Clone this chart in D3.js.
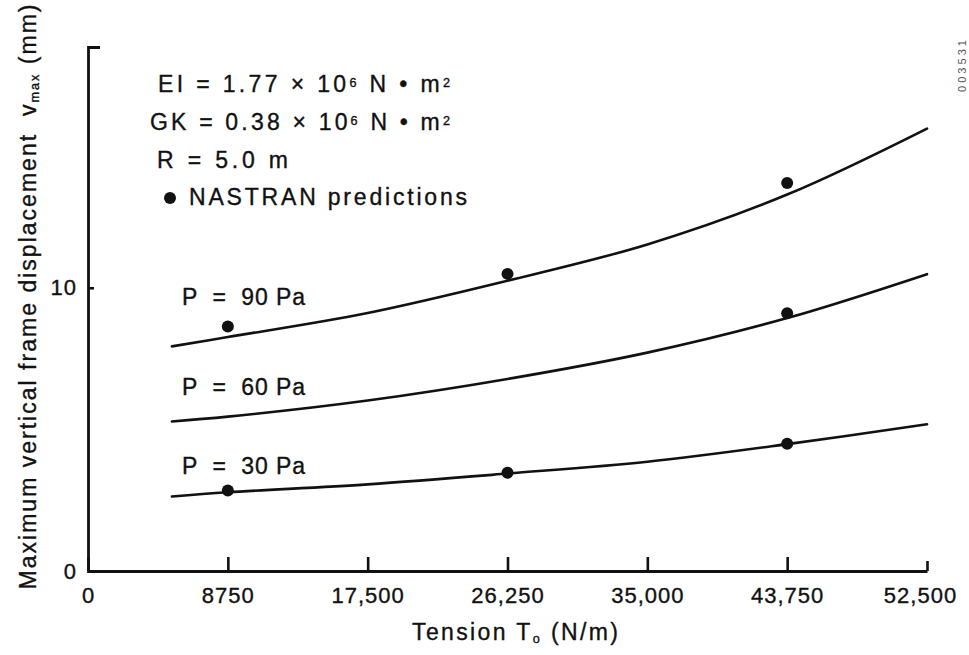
<!DOCTYPE html>
<html>
<head>
<meta charset="utf-8">
<script src="https://cdn.jsdelivr.net/npm/d3@7"></script>
<style>
  html, body { margin: 0; padding: 0; background: #fff; }
  svg { display: block; }
  text { font-family: "Liberation Sans", Arial, Helvetica, sans-serif; fill: #111; stroke: #111; stroke-width: 0.35px; }
</style>
</head>
<body>
<div id="chart"></div>
<script>
// ─── Data ───
const tension = [5250, 8750, 17500, 26250, 35000, 43750, 52500];
const curve90 = [7.93, 8.26, 9.11, 10.25, 11.53, 13.29, 15.62];
const curve60 = [5.28, 5.45, 6.02, 6.78, 7.71, 8.93, 10.48];
const curve30 = [2.63, 2.78, 3.06, 3.44, 3.86, 4.48, 5.18];

const dots90 = [[8750, 8.63], [26250, 10.49], [43750, 13.70]];
const dots60 = [[43750, 9.10]];
const dots30 = [[8750, 2.84], [26250, 3.47], [43750, 4.49]];

const xTicks = [0, 8750, 17500, 26250, 35000, 43750, 52500];
const xTickLabels = ["0", "8750", "17,500", "26,250", "35,000", "43,750", "52,500"];
const yTicks = [0, 10];
const curveLabels = ["P  =  90 Pa", "P  =  60 Pa", "P  =  30 Pa"];

// ─── Layout ───
const W = 969, H = 655;
const svg = d3.select("#chart").append("svg").attr("width", W).attr("height", H);

const x = d3.scaleLinear().domain([0, 52500]).range([88, 927]);
const y = d3.scaleLinear().domain([0, 18.5]).range([571, 47]);

// ── X axis: ticks point up into the plot ──
const xAxis = svg.append("g")
  .attr("transform", `translate(0,${y(0)})`)
  .call(d3.axisBottom(x)
    .tickValues(xTicks)
    .tickFormat((d, i) => xTickLabels[i])
    .tickSize(-14)
    .tickSizeOuter(0)
    .tickPadding(16));
xAxis.select(".domain").attr("stroke", "#111").attr("stroke-width", 2.8);
xAxis.selectAll(".tick line").attr("stroke", "#111").attr("stroke-width", 2.6);
xAxis.selectAll(".tick").filter((d) => d === 52500).select("line").attr("y2", -10);
xAxis.selectAll(".tick").filter((d) => d === 52500).select("text").attr("dx", -7);
xAxis.selectAll(".tick text")
  .attr("fill", "#111")
  .style("font-size", "22px")
  .style("letter-spacing", "1px");

// ── Y axis with the small corner at the top ──
const yAxis = svg.append("g")
  .attr("transform", `translate(${x(0)},0)`)
  .call(d3.axisLeft(y)
    .tickValues(yTicks)
    .tickSize(-6)
    .tickSizeOuter(-12)
    .tickPadding(11));
yAxis.select(".domain").attr("stroke", "#111").attr("stroke-width", 2.8).attr("fill", "none");
yAxis.selectAll(".tick line").attr("stroke", "#111").attr("stroke-width", 2.6);
yAxis.selectAll(".tick text")
  .attr("fill", "#111")
  .style("font-size", "22px")
  .style("letter-spacing", "1px");

// ── Curves ──
const line = d3.line()
  .x((d) => x(d[0]))
  .y((d) => y(d[1]))
  .curve(d3.curveCatmullRom.alpha(0.5));

[curve90, curve60, curve30].forEach((vals) => {
  svg.append("path")
    .datum(tension.map((t, i) => [t, vals[i]]))
    .attr("d", line)
    .attr("fill", "none")
    .attr("stroke", "#111")
    .attr("stroke-width", 2.6)
    .attr("stroke-linecap", "round");
});

// ── NASTRAN points ──
svg.append("g")
  .selectAll("circle")
  .data([...dots90, ...dots60, ...dots30])
  .join("circle")
  .attr("cx", (d) => x(d[0]))
  .attr("cy", (d) => y(d[1]))
  .attr("r", 6)
  .attr("fill", "#111");

// ── Curve labels ──
const labelY = [305, 395, 474];
curveLabels.forEach((t, i) => {
  svg.append("text")
    .attr("x", 182)
    .attr("y", labelY[i])
    .attr("xml:space", "preserve")
    .attr("textLength", 123)
    .attr("lengthAdjust", "spacing")
    .style("font-size", "23px")
    .text(t);
});

// ── Parameter block ──
function richText(parts, px, py, len, size) {
  const t = svg.append("text")
    .attr("x", px)
    .attr("y", py)
    .attr("xml:space", "preserve")
    .style("font-size", size + "px");
  parts.forEach((p) => {
    const s = t.append("tspan").text(p[0]);
    if (p[1] === "sup") s.attr("baseline-shift", "40%").style("font-size", "0.55em");
    if (p[1] === "sub") s.attr("baseline-shift", "-25%").style("font-size", "0.55em");
  });
  if (len) t.attr("textLength", len).attr("lengthAdjust", "spacing");
  return t;
}

richText([["EI = 1.77 × 10"], ["6", "sup"], [" N • m"], ["2", "sup"]], 158, 92, 292, 23);
richText([["GK = 0.38 × 10"], ["6", "sup"], [" N • m"], ["2", "sup"]], 150, 130, 300, 23);
richText([["R = 5.0 m"]], 157, 168, 131, 23);

svg.append("circle").attr("cx", 170).attr("cy", 198).attr("r", 6).attr("fill", "#111");
richText([["NASTRAN predictions"]], 189, 205, 278, 23);

// ── Axis titles ──
richText([["Tension T"], ["o", "sub"], [" (N/m)"]], 412, 640, 206, 23);

richText(
  [["Maximum vertical frame displacement  v"], ["max", "sub"], [" (mm)"]],
  0, 0, 585, 23)
  .attr("text-anchor", "middle")
  .attr("transform", "translate(36,297) rotate(-90)");

// ── Figure id in the margin ──
svg.append("text")
  .attr("transform", "translate(966,66) rotate(-90)")
  .attr("text-anchor", "middle")
  .attr("textLength", 52)
  .attr("lengthAdjust", "spacing")
  .style("font-size", "11px")
  .style("fill", "#555")
  .style("stroke", "none")
  .text("003531");
</script>
</body>
</html>
